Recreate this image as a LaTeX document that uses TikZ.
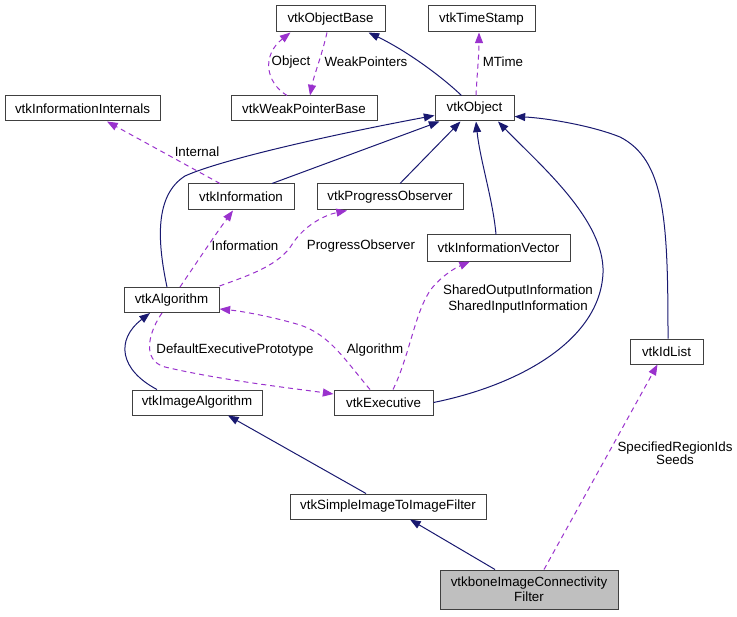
\documentclass[tikz,border=0pt]{standalone}
\usepackage{fontspec}
\setmainfont{Liberation Sans}
\usetikzlibrary{arrows.meta,calc}
\definecolor{navyc}{HTML}{191970}
\definecolor{purp}{HTML}{9A32CD}
\definecolor{boxgray}{HTML}{BFBFBF}
\begin{document}
\begin{tikzpicture}[x=0.75pt,y=-0.75pt,
  box/.style={draw=black!75, line width=0.75pt, fill=white, inner sep=0pt,
    minimum height=25*0.75pt, font=\fontsize{10}{11.25}\selectfont, align=center},
  bw/.style={minimum width=#1*0.75pt},
  inh/.style={draw=navyc, line width=0.75pt, -{Triangle[length=8pt,width=6pt]}},
  uses/.style={draw=purp, line width=0.75pt, dash pattern=on 3.75pt off 3pt,
    -{Triangle[length=8pt,width=6pt]}},
  lbl/.style={font=\fontsize{10}{12}\selectfont, align=center, inner sep=0pt}]
\useasboundingbox (0,0) rectangle (737,616);

% nodes
\node[box,bw=109,minimum height=26*0.75pt] (obase) at (330.5,19) {vtkObjectBase};
\node[box,bw=107,minimum height=26*0.75pt] (tstamp) at (481.5,19) {vtkTimeStamp};
\node[box,bw=155] (iint) at (82.5,108.5) {vtkInformationInternals};
\node[box,bw=146] (wpb) at (304,108.5) {vtkWeakPointerBase};
\node[box,bw=79] (obj) at (474.5,108.5) {vtkObject};
\node[box,bw=106,minimum height=26*0.75pt] (info) at (241,197) {vtkInformation};
\node[box,bw=146,minimum height=26*0.75pt] (pobs) at (390,197) {vtkProgressObserver};
\node[box,bw=143,minimum height=26*0.75pt] (ivec) at (498.5,248) {vtkInformationVector};
\node[box,bw=95] (alg) at (171.5,300) {vtkAlgorithm};
\node[box,bw=130] (ialg) at (197,402.5) {vtkImageAlgorithm};
\node[box,bw=99] (exec) at (383.5,402.5) {vtkExecutive};
\node[box,bw=73] (idl) at (666.5,351.5) {vtkIdList};
\node[box,bw=196] (sitf) at (388,506.5) {vtkSimpleImageToImageFilter};
\node[box,bw=178,minimum height=39*0.75pt,fill=boxgray] (bone) at (529,589.5) {vtkboneImageConnectivity\\Filter};

% inheritance edges
\draw[inh] ($(obj.north west)+(27,0)$) .. controls (440,75) and (405,50) .. ($(obase.south east)+(-17,0)$);
\draw[inh] ($(info.north)+(31,0)$) -- ($(obj.south west)+(5,0)$);
\draw[inh] ($(alg.north)+(-4.5,0)$) .. controls (157,240) and (155,195) .. (185,176)
   .. controls (220,160) and (330,135) .. ($(obj.south west)+(0,-6)$);
\draw[inh] ($(pobs.north)+(10,0)$) -- ($(obj.south)+(-14,0)$);
\draw[inh] ($(ivec.north)+(-2.5,0)$) .. controls (493,200) and (480,160) .. ($(obj.south)+(1.5,0)$);
\draw[inh] (exec.east) .. controls (520,385) and (600,340) .. (603,273)
   .. controls (605,220) and (540,165) .. ($(obj.south)+(23.5,0)$);
\draw[inh] ($(idl.north)+(1.5,0)$) .. controls (668,220) and (665,160) .. (620,137)
   .. controls (590,125) and (545,118) .. ($(obj.south east)+(0,-5)$);
\draw[inh] ($(ialg.north)+(-40,0)$) .. controls (120,370) and (115,340) .. ($(alg.south)+(-21.5,0)$);
\draw[inh] ($(sitf.north)+(-22,0)$) -- ($(ialg.south)+(31,0)$);
\draw[inh] ($(bone.north)+(-34,0)$) -- ($(sitf.south)+(22,0)$);

% usage edges
\draw[uses] ($(wpb.north)+(-17,0)$) .. controls (265,82) and (262,55) .. ($(obase.south)+(-40,0)$);
\node[lbl] (lobject) at (291,62) {Object};
\draw[uses] ($(obase.south)+(-3.5,0)$) .. controls (322,55) and (314,75) .. ($(wpb.north)+(6,0)$);
\node[lbl] (lweak) at (366,62) {WeakPointers};
\draw[uses] ($(obj.north)+(1.5,0)$) .. controls (477,75) and (479,55) .. ($(tstamp.south)+(-2.5,0)$);
\node[lbl] (lmtime) at (503,62) {MTime};
\draw[uses] ($(info.north)+(-21,0)$) -- ($(iint.south)+(24.5,0)$);
\node[lbl] (lint) at (197,152) {Internal};
\draw[uses] ($(alg.north)+(8.5,0)$) .. controls (195,265) and (215,235) .. ($(info.south)+(-8,0)$);
\node[lbl] (linfo) at (245,246) {Information};
\draw[uses] ($(alg.north east)+(0,-1)$) .. controls (250,275) and (280,265) .. (293,243)
   .. controls (305,225) and (325,215) .. ($(pobs.south)+(-43,0)$);
\node[lbl] (lpobs) at (361,246) {ProgressObserver};
\draw[uses] ($(exec.north)+(9.5,0)$) .. controls (410,355) and (415,310) .. (432,288)
   .. controls (443,275) and (455,268) .. ($(ivec.south)+(-28.5,0)$);
\node[lbl,font=\fontsize{10}{12}\selectfont] (lshared) at (518,299) {SharedOutputInformation\\SharedInputInformation};
\draw[uses] ($(exec.north)+(-13.5,0)$) .. controls (345,360) and (330,335) .. (300,325)
   .. controls (270,316) and (240,311) .. ($(alg.south east)+(0,-4)$);
\node[lbl] (lalg) at (375,350) {Algorithm};
\draw[uses] ($(alg.south)+(-9.5,0)$) .. controls (150,330) and (140,360) .. (165,367)
   .. controls (220,380) and (290,388) .. ($(exec.west)+(0,-8.5)$);
\node[lbl] (ldef) at (235,350) {DefaultExecutivePrototype};
\draw[uses] ($(bone.north)+(15,0)$) -- ($(idl.south)+(-9,0)$);
\node[lbl,font=\fontsize{10}{10}\selectfont] (lspec) at (675,453) {SpecifiedRegionIds\\Seeds};
\end{tikzpicture}
\end{document}
